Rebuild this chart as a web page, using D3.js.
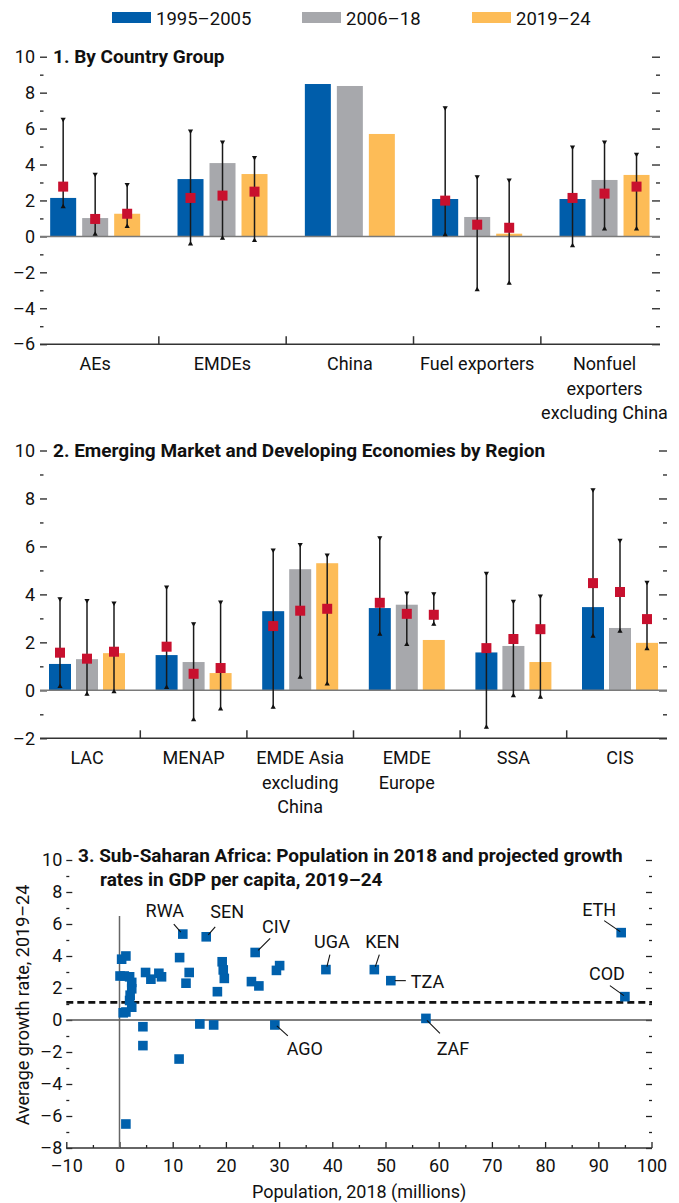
<!DOCTYPE html>
<html><head><meta charset="utf-8">
<script src="https://cdn.jsdelivr.net/npm/d3@7"></script>
<style>
body{margin:0;background:#fff;}
svg text{font-family:Roboto,"Liberation Sans",sans-serif;fill:#111;}
</style></head><body>
<script>
// ---------- Legend / series ----------
const seriesNames = ["1995–2005","2006–18","2019–24"];
const seriesColors = ["#005DAA","#A7A8AC","#FDBC57"];

// ---------- Panel 1: By Country Group ----------
const p1Title = "1. By Country Group";
const p1Groups = ["AEs","EMDEs","China","Fuel exporters","Nonfuel exporters excluding China"];
const p1Labels = [["AEs"],["EMDEs"],["China"],["Fuel exporters"],["Nonfuel","exporters","excluding China"]];
const p1Bar1995 = [2.14, 3.19, 8.48, 2.08, 2.08];
const p1Bar2006 = [1.02, 4.08, 8.37, 1.08, 3.14];
const p1Bar2019 = [1.26, 3.47, 5.70, 0.15, 3.42];
const p1Med1995 = [2.77, 2.14, null, 1.99, 2.14];
const p1Med2006 = [0.97, 2.27, null, 0.65, 2.38];
const p1Med2019 = [1.26, 2.49, null, 0.48, 2.77];
const p1Hi1995 = [6.57, 5.92, null, 7.22, 5.03];
const p1Lo1995 = [1.60, -0.48, null, 0.04, -0.57];
const p1Hi2006 = [3.51, 5.31, null, 3.38, 5.31];
const p1Lo2006 = [0.06, -0.16, null, -3.02, 0.36];
const p1Hi2019 = [2.95, 4.44, null, 3.19, 4.62];
const p1Lo2019 = [0.50, -0.29, null, -2.67, 0.36];
const p1Ticks = [-6,-4,-2,0,2,4,6,8,10];
const p1Minor = [-5,-3,-1,1,3,5,7,9];

// ---------- Panel 2: EMDEs by Region ----------
const p2Title = "2. Emerging Market and Developing Economies by Region";
const p2Groups = ["LAC","MENAP","EMDE Asia excluding China","EMDE Europe","SSA","CIS"];
const p2Labels = [["LAC"],["MENAP"],["EMDE Asia","excluding","China"],["EMDE","Europe"],["SSA"],["CIS"]];
const p2Bar1995 = [1.10, 1.47, 3.30, 3.43, 1.58, 3.47];
const p2Bar2006 = [1.30, 1.18, 5.05, 3.57, 1.85, 2.60];
const p2Bar2019 = [1.55, 0.72, 5.30, 2.10, 1.18, 1.98];
const p2Med1995 = [1.57, 1.82, 2.68, 3.65, 1.76, 4.47];
const p2Med2006 = [1.32, 0.69, 3.32, 3.19, 2.14, 4.10];
const p2Med2019 = [1.61, 0.93, 3.40, 3.15, 2.55, 2.97];
const p2Hi1995 = [3.86, 4.35, 5.89, 6.40, 4.92, 8.40];
const p2Lo1995 = [0.12, 0.08, -0.75, 2.30, -1.58, 2.21];
const p2Hi2006 = [3.79, 2.82, 6.12, 4.10, 3.76, 6.30];
const p2Lo2006 = [-0.20, -1.27, 0.50, 1.87, -0.27, 2.42];
const p2Hi2019 = [3.68, 3.73, 5.68, 4.07, 3.98, 4.55];
const p2Lo2019 = [-0.10, -0.82, 0.22, 2.71, -0.33, 1.69];
const p2Ticks = [-2,0,2,4,6,8,10];
const p2Minor = [-1,1,3,5,7,9];

// ---------- Panel 3: SSA scatter ----------
const p3TitleLines = ["3. Sub-Saharan Africa: Population in 2018 and projected growth","rates in GDP per capita, 2019–24"];
const p3Pop = [11.9, 16.3, 25.5, 0.4, 1.2, 11.3, 19.3, 19.5, 19.7, 30.1, 29.5, 4.9, 5.9, 7.4, 7.9, 13.1, 12.5, 18.4, 24.8, 26.2,
               38.8, 47.9, 51.0, 29.2, 57.6, 94.3, 95.0, 15.1, 17.7, 4.4, 4.4, 11.2, 1.2, 0.1, 0.9, 1.9, 2.3, 2.3, 2.0, 1.9, 2.3, 0.7, 1.2];
const p3Growth = [5.37, 5.20, 4.22, 3.80, 4.00, 3.90, 3.64, 3.13, 2.60, 3.40, 3.10, 2.97, 2.55, 2.92, 2.70, 2.97, 2.30, 1.77, 2.40, 2.13,
               3.15, 3.15, 2.46, -0.31, 0.10, 5.46, 1.46, -0.25, -0.31, -0.42, -1.60, -2.44, -6.50, 2.75, 2.75, 2.70, 2.35, 1.95, 1.55, 1.22, 0.80, 0.45, 0.50];
const p3Codes = ["RWA","SEN","CIV","","","","","","","","","","","","","","","","","",
               "UGA","KEN","TZA","AGO","ZAF","ETH","COD","","","","","","","","","","","","","","","",""];
const p3Threshold = 1.1;
const p3XTicks = [-10,0,10,20,30,40,50,60,70,80,90,100];
const p3XMinor = [-5,5,15,25,35,45,55,65,75,85,95];
const p3YTicks = [-8,-6,-4,-2,0,2,4,6,8,10];
const p3YMinor = [-7,-5,-3,-1,1,3,5,7,9];
const p3XTitle = "Population, 2018 (millions)";
const p3YTitle = "Average growth rate, 2019–24";

// label placement (offsets in px from the point)
const p3LabelPos = {
  RWA:{tx:-18, ty:-17, anchor:"middle", l:[-9,-10,-2,-2]},
  SEN:{tx:21, ty:-19, anchor:"middle", l:[9,-10,2,-2]},
  CIV:{tx:21, ty:-19, anchor:"middle", l:[15,-14,3,-2]},
  UGA:{tx:6, ty:-22, anchor:"middle", l:[4,-15,1,-3]},
  KEN:{tx:8, ty:-22, anchor:"middle", l:[5,-15,1,-3]},
  TZA:{tx:20, ty:7, anchor:"start", l:[4,0,15,0]},
  AGO:{tx:30, ty:30, anchor:"middle", l:[2,1,13,11]},
  ZAF:{tx:27, ty:37, anchor:"middle", l:[1,2,14,15]},
  ETH:{tx:-22, ty:-17, anchor:"middle", l:[-17,-12,-1,-1]},
  COD:{tx:-18, ty:-17, anchor:"middle", l:[-15,-11,-1,-1]}
};

const fmt = d => d < 0 ? "–" + Math.abs(d) : String(d);
const W = 679, H = 1203;
const svg = d3.select("body").append("svg").attr("width", W).attr("height", H);
const FS = 18;
const TFS = 19;
const FAM = 'Roboto,"Liberation Sans",sans-serif';

// ---------- Legend ----------
const legendX = [112, 302, 472];
const lg = svg.append("g");
seriesNames.forEach((s, i) => {
  lg.append("rect").attr("x", legendX[i]).attr("y", 12).attr("width", 39).attr("height", 11).attr("fill", seriesColors[i]);
  lg.append("text").attr("x", legendX[i] + 44).attr("y", 24.5).attr("font-size", 18.5).text(s);
});

function styleAxis(sel) {
  sel.select(".domain").remove();
  sel.selectAll(".tick line").attr("stroke", "#222").attr("stroke-width", 1.3);
  sel.selectAll(".tick text").attr("font-size", FS).attr("fill", "#111").style("font-family", FAM);
}

function drawBarPanel(o) {
  const g = svg.append("g");
  const y = d3.scaleLinear().domain(o.yDomain).range(o.yRange);
  const x0 = d3.scaleBand().domain(o.groups).range(o.band);
  const x1 = d3.scaleBand().domain([0, 1, 2]).range([0, o.inner]).paddingInner(o.pad);
  const cx = (gi, s) => x0(o.groups[gi]) + x0.bandwidth() / 2 - o.inner / 2 + x1(s);

  g.append("g").attr("transform", `translate(${o.left},0)`)
    .call(d3.axisLeft(y).tickValues(o.ticks).tickSize(-7).tickPadding(5).tickFormat(fmt)).call(styleAxis);
  g.append("g").attr("transform", `translate(${o.left},0)`)
    .call(d3.axisLeft(y).tickValues(o.minor).tickSize(-3.5).tickFormat("")).call(styleAxis);
  g.append("g").attr("transform", `translate(${o.right},0)`)
    .call(d3.axisRight(y).tickValues(o.ticks).tickSize(-8).tickFormat("")).call(styleAxis);
  g.append("g").attr("transform", `translate(${o.right},0)`)
    .call(d3.axisRight(y).tickValues(o.minor).tickSize(-4).tickFormat("")).call(styleAxis);

  const bars = [o.b1, o.b2, o.b3];
  bars.forEach((arr, s) => {
    g.selectAll(null).data(arr).enter().append("rect")
      .attr("x", (d, i) => cx(i, s)).attr("width", x1.bandwidth())
      .attr("y", d => y(Math.max(0, d))).attr("height", d => Math.abs(y(d) - y(0)))
      .attr("fill", seriesColors[s]);
  });

  g.append("line").attr("x1", o.left).attr("x2", o.right).attr("y1", y(0)).attr("y2", y(0))
    .attr("stroke", "#7a7a7a").attr("stroke-width", 1.5);

  const his = [o.h1, o.h2, o.h3], los = [o.l1, o.l2, o.l3], meds = [o.m1, o.m2, o.m3];
  his.forEach((arr, s) => {
    arr.forEach((hi, i) => {
      if (hi == null) return;
      const lo = los[s][i];
      const xc = cx(i, s) + x1.bandwidth() / 2;
      g.append("line").attr("x1", xc).attr("x2", xc).attr("y1", y(hi)).attr("y2", y(lo))
        .attr("stroke", "#1a1a1a").attr("stroke-width", 1.5);
      const yt = y(hi), yb = y(lo);
      g.append("path").attr("d", `M${xc - 2.6},${yt - 0.5}L${xc + 2.6},${yt - 0.5}L${xc},${yt + 4}Z`).attr("fill", "#111");
      g.append("path").attr("d", `M${xc - 2.6},${yb + 0.5}L${xc + 2.6},${yb + 0.5}L${xc},${yb - 4}Z`).attr("fill", "#111");
    });
  });
  meds.forEach((arr, s) => {
    arr.forEach((m, i) => {
      if (m == null) return;
      const xc = cx(i, s) + x1.bandwidth() / 2;
      g.append("rect").attr("x", xc - 5).attr("y", y(m) - 5).attr("width", 10).attr("height", 10).attr("fill", "#C8102E");
    });
  });

  const yb = y(o.yDomain[0]);
  g.append("line").attr("x1", o.left).attr("x2", o.right).attr("y1", yb).attr("y2", yb)
    .attr("stroke", "#333").attr("stroke-width", 1.5);
  o.groups.slice(1).forEach(gname => {
    const xs = x0(gname);
    g.append("line").attr("x1", xs).attr("x2", xs).attr("y1", yb).attr("y2", yb - 8)
      .attr("stroke", "#333").attr("stroke-width", 1.5);
  });

  o.labels.forEach((lines, i) => {
    const xc = x0(o.groups[i]) + x0.bandwidth() / 2;
    lines.forEach((ln, k) => {
      g.append("text").attr("x", xc).attr("y", yb + 26 + k * 24.5).attr("text-anchor", "middle")
        .attr("font-size", FS).text(ln);
    });
  });

  g.append("text").attr("x", o.titleX).attr("y", o.titleY).attr("font-size", TFS).attr("font-weight", "bold").text(o.title);
}

drawBarPanel({
  title: p1Title, titleX: 53, titleY: 63,
  groups: p1Groups, labels: p1Labels,
  yDomain: [-6, 10], yRange: [344.2, 56.7], ticks: p1Ticks, minor: p1Minor,
  band: [31.5, 668.2], inner: 90, pad: 6 / 32, left: 40, right: 660,
  b1: p1Bar1995, b2: p1Bar2006, b3: p1Bar2019,
  m1: p1Med1995, m2: p1Med2006, m3: p1Med2019,
  h1: p1Hi1995, h2: p1Hi2006, h3: p1Hi2019,
  l1: p1Lo1995, l2: p1Lo2006, l3: p1Lo2019
});

drawBarPanel({
  title: p2Title, titleX: 53, titleY: 457,
  groups: p2Groups, labels: p2Labels,
  yDomain: [-2, 10], yRange: [738.3, 450.5], ticks: p2Ticks, minor: p2Minor,
  band: [33.7, 673.3], inner: 76, pad: 5 / 27, left: 40, right: 667,
  b1: p2Bar1995, b2: p2Bar2006, b3: p2Bar2019,
  m1: p2Med1995, m2: p2Med2006, m3: p2Med2019,
  h1: p2Hi1995, h2: p2Hi2006, h3: p2Hi2019,
  l1: p2Lo1995, l2: p2Lo2006, l3: p2Lo2019
});

// ---------- Panel 3 ----------
(function () {
  const g = svg.append("g");
  const x = d3.scaleLinear().domain([-10, 100]).range([66.3, 651.5]);
  const y = d3.scaleLinear().domain([-8, 10]).range([1148, 860]);
  const L = 66.3, R = 652;

  g.append("g").attr("transform", `translate(${L},0)`)
    .call(d3.axisLeft(y).tickValues(p3YTicks).tickSize(-6).tickPadding(4).tickFormat(fmt)).call(styleAxis);
  g.append("g").attr("transform", `translate(${L},0)`)
    .call(d3.axisLeft(y).tickValues(p3YMinor).tickSize(-3).tickFormat("")).call(styleAxis);
  g.append("g").attr("transform", `translate(${R},0)`)
    .call(d3.axisRight(y).tickValues(p3YTicks).tickSize(-6).tickFormat("")).call(styleAxis);
  g.append("g").attr("transform", `translate(${R},0)`)
    .call(d3.axisRight(y).tickValues(p3YMinor).tickSize(-3).tickFormat("")).call(styleAxis);
  g.append("g").attr("transform", `translate(0,${y(-8)})`)
    .call(d3.axisBottom(x).tickValues(p3XTicks).tickSize(-6).tickPadding(11).tickFormat(fmt)).call(styleAxis);
  g.append("g").attr("transform", `translate(0,${y(-8)})`)
    .call(d3.axisBottom(x).tickValues(p3XMinor).tickSize(-3).tickFormat("")).call(styleAxis);

  g.append("line").attr("x1", L).attr("x2", R).attr("y1", y(-8)).attr("y2", y(-8)).attr("stroke", "#333").attr("stroke-width", 1.5);
  g.append("line").attr("x1", L).attr("x2", R).attr("y1", y(0)).attr("y2", y(0)).attr("stroke", "#555").attr("stroke-width", 1.3);
  g.append("line").attr("x1", x(0)).attr("x2", x(0)).attr("y1", y(6.5)).attr("y2", y(-8)).attr("stroke", "#666").attr("stroke-width", 1.5);
  g.append("line").attr("x1", L).attr("x2", R).attr("y1", y(p3Threshold)).attr("y2", y(p3Threshold))
    .attr("stroke", "#111").attr("stroke-width", 2.6).attr("stroke-dasharray", "7,4");

  g.selectAll(null).data(p3Pop).enter().append("rect")
    .attr("x", d => x(d) - 4.8).attr("y", (d, i) => y(p3Growth[i]) - 4.8)
    .attr("width", 9.6).attr("height", 9.6).attr("fill", "#0060AC");

  p3Codes.forEach((c, i) => {
    if (!c) return;
    const p = p3LabelPos[c];
    const px = x(p3Pop[i]), py = y(p3Growth[i]);
    g.append("line").attr("x1", px + p.l[0]).attr("y1", py + p.l[1]).attr("x2", px + p.l[2]).attr("y2", py + p.l[3])
      .attr("stroke", "#111").attr("stroke-width", 1.1);
    g.append("text").attr("x", px + p.tx).attr("y", py + p.ty).attr("text-anchor", p.anchor).attr("font-size", FS).text(c);
  });

  p3TitleLines.forEach((t, k) => {
    g.append("text").attr("x", k === 0 ? 78 : 100).attr("y", 862 + k * 23.5).attr("font-size", TFS).attr("font-weight", "bold").text(t);
  });
  g.append("text").attr("x", (L + R) / 2).attr("y", 1198).attr("text-anchor", "middle").attr("font-size", FS).text(p3XTitle);
  g.append("text").attr("transform", `translate(29,1005) rotate(-90)`).attr("text-anchor", "middle").attr("font-size", FS).text(p3YTitle);
})();
</script>
</body></html>
